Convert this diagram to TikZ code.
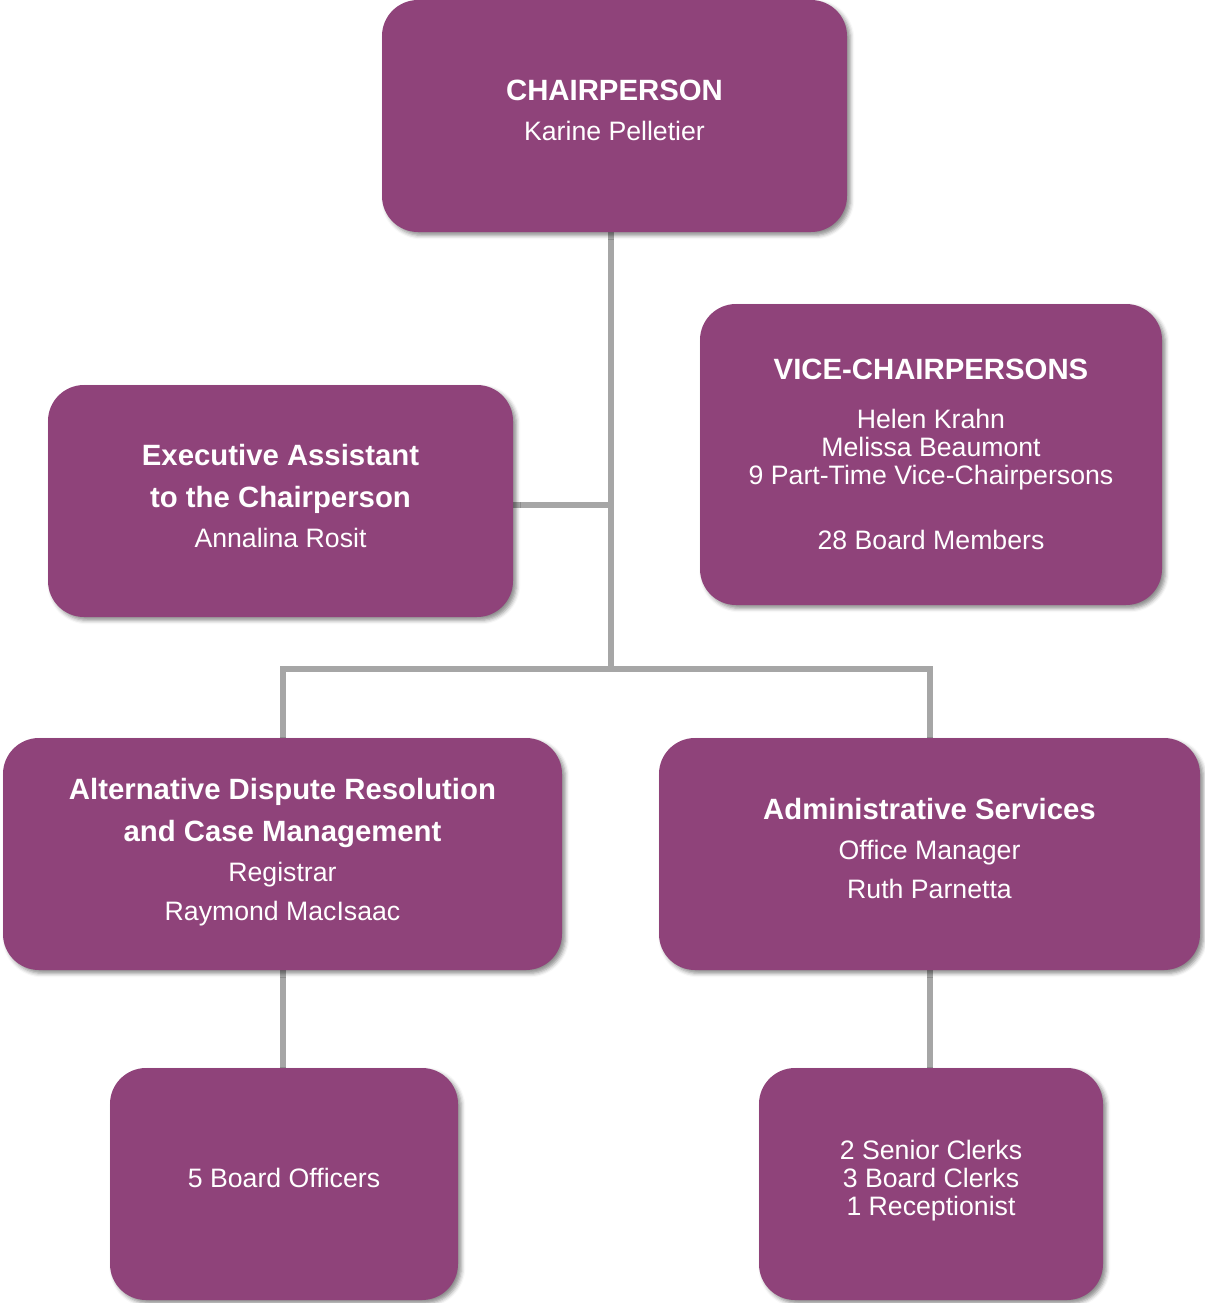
\documentclass[tikz,border=0pt]{standalone}
\usepackage{fontspec}
\setmainfont{Liberation Sans}
\usetikzlibrary{shadows.blur,backgrounds}
\definecolor{boxpurple}{RGB}{143,67,122}
\definecolor{linegray}{RGB}{166,166,166}
\newcommand\boxtitle[1]{{\fontsize{22}{21}\selectfont\bfseries #1}}
\begin{document}
\begin{tikzpicture}[x=0.75pt,y=-0.75pt,
  orgbox/.style={fill=boxpurple, rounded corners=27pt, inner sep=0pt,
    blur shadow={shadow xshift=2.5pt, shadow yshift=-2.5pt, shadow blur radius=3pt, shadow opacity=45}},
  boxtext/.style={text=white, align=center, inner sep=0pt, font=\fontsize{20}{21}\selectfont},
  link/.style={draw=linegray, line width=3.8pt}]
\path[use as bounding box] (0,0) rectangle (1204,1303);

\node[orgbox, minimum width=348.75pt, minimum height=174pt] (chair) at (614.5,116) {};
\node[boxtext] (chairtext) at ([yshift=4.2pt]chair.center)
  {\boxtitle{CHAIRPERSON}\\[9pt] Karine Pelletier};

\node[orgbox, minimum width=346.5pt, minimum height=225.75pt] (vice) at (931,454.5) {};
\node[boxtext] (vicetext) at ([yshift=0pt]vice.center)
  {\boxtitle{VICE-CHAIRPERSONS}\\[15.75pt] Helen Krahn\\ Melissa Beaumont\\ 9 Part-Time Vice-Chairpersons\\[27.75pt] 28 Board Members};

\node[orgbox, minimum width=348.75pt, minimum height=174pt] (exec) at (280.5,501) {};
\node[boxtext] (exectext) at ([yshift=3.75pt]exec.center)
  {\boxtitle{Executive Assistant}\\[11pt] \boxtitle{to the Chairperson}\\[9pt] Annalina Rosit};

\node[orgbox, minimum width=419.25pt, minimum height=174pt] (adr) at (282.5,854) {};
\node[boxtext] (adrtext) at ([yshift=1.5pt]adr.center)
  {\boxtitle{Alternative Dispute Resolution}\\[11pt] \boxtitle{and Case Management}\\[9pt] Registrar\\[8.25pt] Raymond MacIsaac};

\node[orgbox, minimum width=405.75pt, minimum height=174pt] (admin) at (929.5,854) {};
\node[boxtext] (admintext) at ([yshift=4.2pt]admin.center)
  {\boxtitle{Administrative Services}\\[9pt] Office Manager\\[8.25pt] Ruth Parnetta};

\node[orgbox, minimum width=261pt, minimum height=174pt] (off) at (284,1184) {};
\node[boxtext] (offtext) at ([yshift=4.5pt]off.center) {5 Board Officers};

\node[orgbox, minimum width=258pt, minimum height=174pt] (clerks) at (931,1184) {};
\node[boxtext] (clerkstext) at ([yshift=2.25pt]clerks.center)
  {2 Senior Clerks\\ 3 Board Clerks\\ 1 Receptionist};

\coordinate (trunkA) at (611,505);
\coordinate (trunkB) at (611,669);
\coordinate (leftC) at (283,669);
\coordinate (rightC) at (930,669);

\begin{scope}[on background layer]
\draw[link] (chair.south -| trunkB) -- (trunkB);
\draw[link] (exec.east |- trunkA) -- (trunkA);
\draw[link] (adr.north -| leftC) -- (leftC) -- (rightC) -- (admin.north -| rightC);
\draw[link] (adr.south -| leftC) -- (off.north -| leftC);
\draw[link] (admin.south -| rightC) -- (clerks.north -| rightC);
\end{scope}
\end{tikzpicture}
\end{document}
